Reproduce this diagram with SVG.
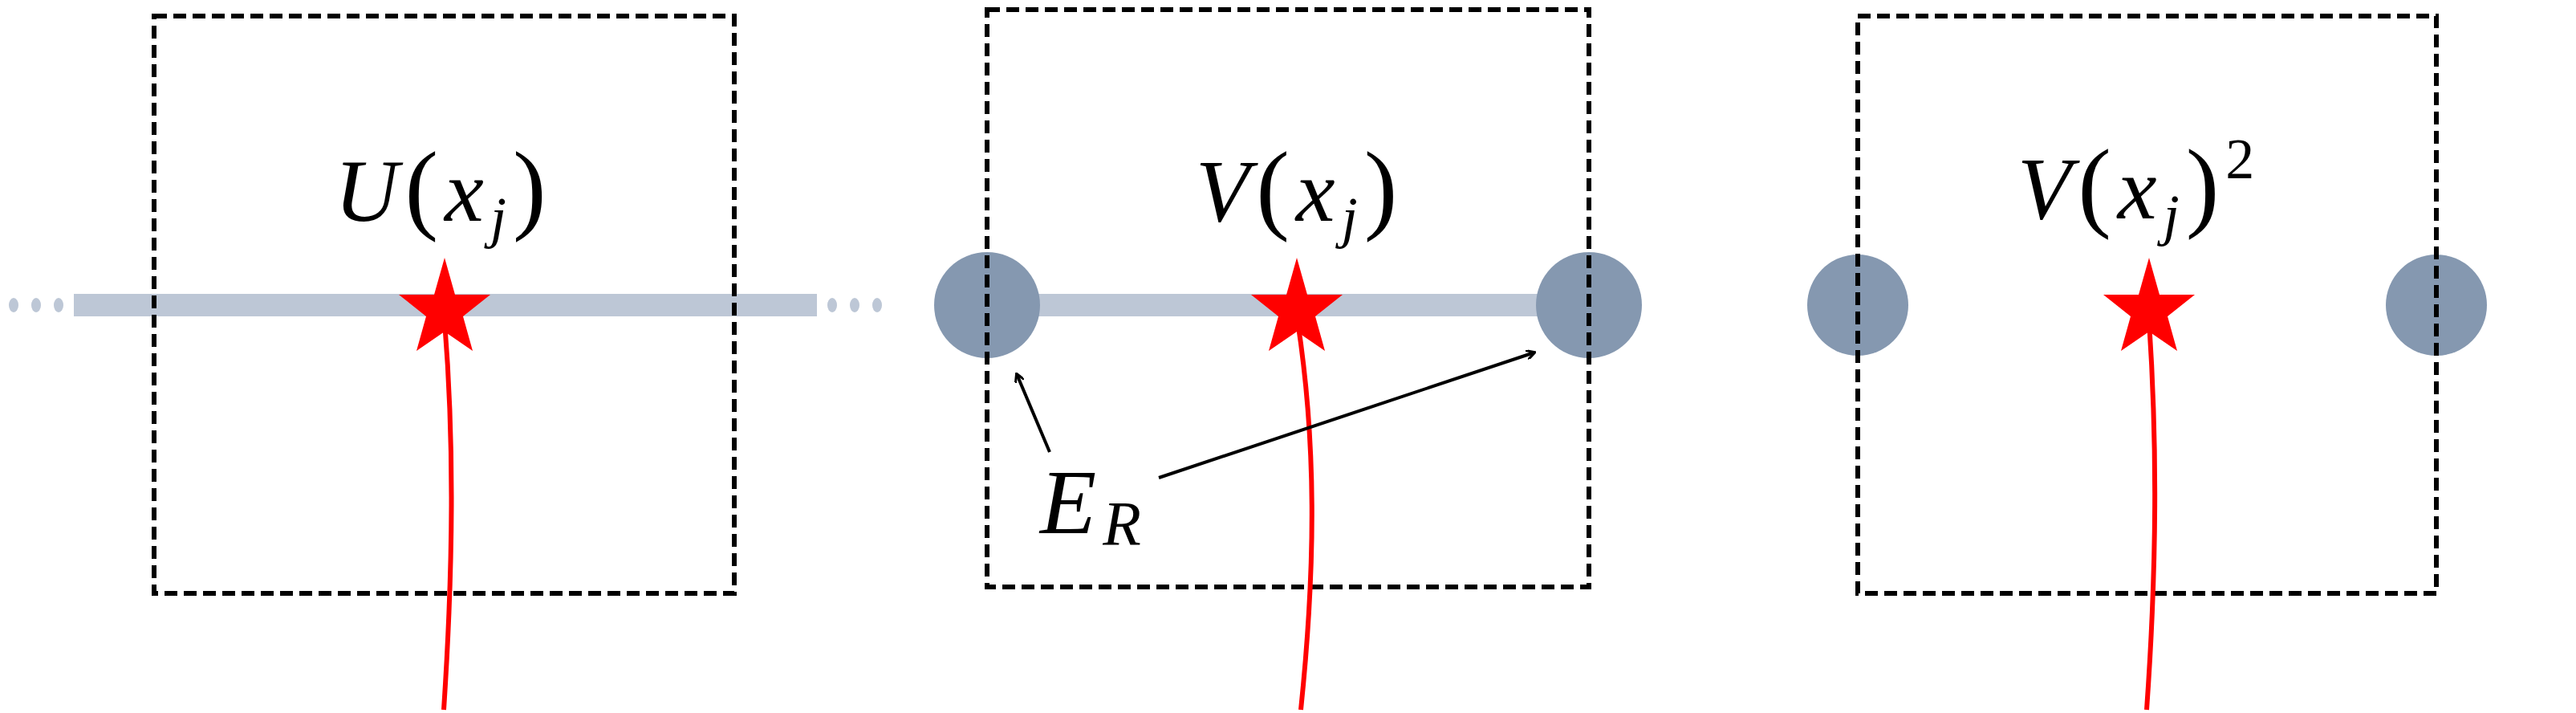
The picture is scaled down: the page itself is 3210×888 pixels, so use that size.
<svg xmlns="http://www.w3.org/2000/svg" width="3210" height="888" viewBox="0 0 3210 888">
<style>
.box{fill:none;stroke:#000;stroke-width:6;stroke-dasharray:16 8}
.bar{fill:#bdc7d6}
.dot{fill:#bdc7d6}
.node{fill:#8598b0}
.star{fill:#ff0000}
.wire{fill:none;stroke:#ff0000;stroke-width:6}
.lbl{font-family:"Liberation Serif",serif;font-size:110px;fill:#000;letter-spacing:8px}
.it{font-style:italic}
.p{font-size:125px}
.arr{stroke:#000;stroke-width:4;fill:none;marker-end:url(#ah)}
</style>
<defs>
<marker id="ah" markerWidth="12" markerHeight="12" refX="10" refY="6" orient="auto" markerUnits="userSpaceOnUse" viewBox="0 0 12 12">
<path d="M0,0 L11,6 L0,12" fill="none" stroke="#000" stroke-width="3"/>
</marker>
<path id="st" d="M0,-46 L13,0 L57,0 L23,27 L35,70 L0,46 L-35,70 L-23,27 L-57,0 L-13,0 Z"/>
</defs>
<rect width="3210" height="888" fill="#fff"/>
<g id="bars">
<rect class="bar" x="92" y="366" width="926" height="28"/>
<ellipse class="dot" cx="17" cy="380" rx="6" ry="9"/>
<ellipse class="dot" cx="45" cy="380" rx="6" ry="9"/>
<ellipse class="dot" cx="73" cy="380" rx="6" ry="9"/>
<ellipse class="dot" cx="1037" cy="380" rx="6" ry="9"/>
<ellipse class="dot" cx="1065" cy="380" rx="6" ry="9"/>
<ellipse class="dot" cx="1093" cy="380" rx="6" ry="9"/>
<rect class="bar" x="1230" y="366" width="750" height="28"/>
</g>
<g id="nodes-circles">
<circle class="node" cx="1230" cy="380" r="66"/>
<circle class="node" cx="1980" cy="380" r="66"/>
<circle class="node" cx="2315" cy="380" r="63"/>
<circle class="node" cx="3036" cy="380" r="63"/>
</g>
<g id="box1"><rect class="box" x="192" y="20" width="723" height="719"/>
<text class="lbl" x="417" y="275"><tspan class="it">U</tspan><tspan class="p">(</tspan><tspan class="it">x</tspan><tspan class="it" font-size="72" dy="20">j</tspan><tspan class="p" dy="-20">)</tspan></text></g>
<g id="box2"><rect class="box" x="1230" y="12" width="750" height="719"/>
<text class="lbl" x="1490" y="275"><tspan class="it">V</tspan><tspan class="p">(</tspan><tspan class="it">x</tspan><tspan class="it" font-size="72" dy="20">j</tspan><tspan class="p" dy="-20">)</tspan></text></g>
<g id="box3"><rect class="box" x="2514" y="20" width="0" height="0" style="display:none"/><rect class="box" x="2315" y="20" width="721" height="719"/>
<text class="lbl" x="2514" y="272"><tspan class="it">V</tspan><tspan class="p">(</tspan><tspan class="it">x</tspan><tspan class="it" font-size="72" dy="20">j</tspan><tspan class="p" dy="-20">)</tspan><tspan font-size="72" dy="-50">2</tspan></text></g>
<g id="connectors">
<path class="wire" d="M553,884 C565,700 566,550 554,400"/>
<path class="wire" d="M1621,884 C1640,700 1640,550 1617,400"/>
<path class="wire" d="M2675,884 C2688,700 2688,550 2678,400"/>
<line class="arr" x1="1308" y1="563" x2="1267" y2="466"/>
<line class="arr" x1="1444" y1="595" x2="1912" y2="439"/>
</g>
<g id="stars">
<use href="#st" class="star" x="554" y="367"/>
<use href="#st" class="star" x="1616" y="367"/>
<use href="#st" class="star" x="2678" y="367"/>
</g>
<g id="label-ER"><text class="lbl" x="1296" y="664" style="font-size:115px"><tspan class="it">E</tspan><tspan class="it" font-size="78" dy="14">R</tspan></text></g>
</svg>
